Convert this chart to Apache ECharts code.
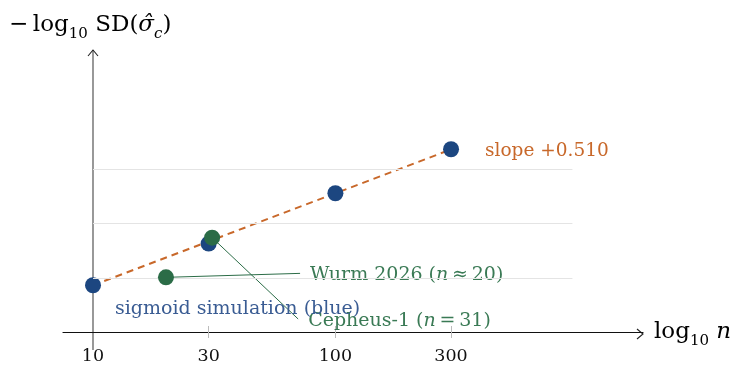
<!DOCTYPE html>
<html><head><meta charset="utf-8">
<script src="https://cdn.jsdelivr.net/npm/echarts@6/dist/echarts.min.js"></script>
<style>html,body{margin:0;padding:0;background:#fff}#c{width:732px;height:365px}</style>
</head><body><div id="c"></div>
<script>
// ---- data (x in n, plotted on log10 scale; y = -log10 SD) ----
const tickN = [10, 30, 100, 300];
const simN = [10, 30, 100, 300];
const simY = [0.559, 0.790, 1.069, 1.313];
const fitN = [10, 300];
const fitY = [0.559, 1.312];
const obsText = ['Wurm 2026 ({i|n}\u2009≈\u200920)', 'Cepheus-1 ({i|n}\u2009=\u200931)'];
const obsN = [20, 31];
const obsY = [0.603, 0.823];
const leaderN = [71.5, 70.2];
const leaderY = [0.625, 0.372];
const gridY = [0.6, 0.9, 1.2];
const gridSpanN = [10, 950];

const L = Math.log10;
const FONT = 'DejaVu Serif';
const BLUE = '#1c4680', BLUE_T = '#3a5c93';
const GREEN = '#2b6c47', GREEN_T = '#3a7a55';
const ORANGE = '#c8682a';
const FS = 19;

const slope = (fitY[1] - fitY[0]) / (L(fitN[1]) - L(fitN[0]));

const XMIN = 0.8762, XMAX = 3.2690;
const YMIN = 0.3, YMAX = 1.8575;

const chart = echarts.init(document.getElementById('c'), null, {renderer: 'canvas'});

const series = [];
series.push({
  type: 'line', data: [], silent: true,
  markLine: {
    symbol: 'none', silent: true, label: {show: false},
    lineStyle: {color: '#e4e4e4', width: 1.2, type: 'solid'},
    data: gridY.map(v => [{coord: [L(gridSpanN[0]), v]}, {coord: [L(gridSpanN[1]), v]}])
  }, z: 1
});
series.push({
  type: 'line', data: fitN.map((n, i) => [L(n), fitY[i]]),
  symbol: 'none', z: 2,
  lineStyle: {color: ORANGE, width: 2, type: [7, 5]},
  endLabel: {show: true, formatter: 'slope +' + slope.toFixed(3), color: ORANGE,
    fontFamily: FONT, fontSize: 18.5, distance: 34, offset: [0, 2]}
});
obsN.forEach((n, i) => {
  series.push({
    type: 'line', data: [[L(n), obsY[i]], [L(leaderN[i]), leaderY[i]]],
    symbol: 'none', z: 3,
    lineStyle: {color: GREEN, width: 1},
    endLabel: {show: true, formatter: obsText[i], color: GREEN_T, fontFamily: FONT,
      fontSize: FS, distance: 10, offset: [0, 2],
      rich: {i: {fontStyle: 'italic', fontFamily: FONT, fontSize: FS, color: GREEN_T}}}
  });
});
series.push({
  type: 'scatter', z: 4, symbolSize: 16,
  itemStyle: {color: BLUE, opacity: 1},
  data: simN.map((n, i) => {
    const d = {value: [L(n), simY[i]]};
    if (i === 0) d.label = {show: true, formatter: 'sigmoid simulation (blue)', position: 'right',
      distance: 14, offset: [0, 24], color: BLUE_T, fontFamily: FONT, fontSize: FS};
    return d;
  })
});
series.push({
  type: 'scatter', z: 5, symbolSize: 16,
  itemStyle: {color: GREEN, opacity: 1},
  data: obsN.map((n, i) => [L(n), obsY[i]])
});

const axisCommon = {type: 'value', min: XMIN, max: XMAX, splitLine: {show: false}};
chart.setOption({
  animation: false,
  grid: {left: 63, right: 89, top: 51, bottom: 31, containLabel: false},
  xAxis: [
    Object.assign({}, axisCommon, {
      position: 'bottom',
      axisLine: {show: true, onZero: false, lineStyle: {color: '#111', width: 1.2}},
      axisTick: {show: true, customValues: tickN.slice(1).map(L), length: 6, lineStyle: {color: '#bbb', width: 1}},
      axisLabel: {show: true, customValues: tickN.map(L), formatter: v => String(Math.round(Math.pow(10, v))),
        color: '#111', fontFamily: FONT, fontSize: 17.5, margin: 15}
    }),
    Object.assign({}, axisCommon, {
      position: 'bottom',
      axisLine: {show: false},
      axisTick: {show: true, inside: true, customValues: tickN.slice(1).map(L), length: 6, lineStyle: {color: '#bbb', width: 1}},
      axisLabel: {show: false}
    })
  ],
  yAxis: {type: 'value', min: YMIN, max: YMAX, show: false},
  series: series,
  graphic: [
    {type: 'line', shape: {x1: 93, y1: 50, x2: 93, y2: 350}, style: {stroke: '#444', lineWidth: 1.1}, z: 0},
    {type: 'polyline', shape: {points: [[88, 56], [93, 50], [98, 56]]}, style: {stroke: '#222', lineWidth: 1.1, fill: null}},
    {type: 'polyline', shape: {points: [[637, 329], [643, 334], [637, 339]]}, style: {stroke: '#222', lineWidth: 1.1, fill: null}},
    {type: 'text', left: 9, top: 14, style: {
      text: '{a|−\u2009log}{s|10}{a| SD(}{i|σ̂}{si|c}{a|)}',
      rich: {
        a: {fontFamily: FONT, fontSize: 23, lineHeight: 32, color: '#111', verticalAlign: 'middle'},
        i: {fontFamily: FONT, fontStyle: 'italic', fontSize: 23, lineHeight: 32, color: '#111', verticalAlign: 'middle'},
        s: {fontFamily: FONT, fontSize: 15, lineHeight: 15, color: '#111', verticalAlign: 'bottom'},
        si: {fontFamily: FONT, fontStyle: 'italic', fontSize: 15, lineHeight: 15, color: '#111', verticalAlign: 'bottom'}
      }}},
    {type: 'text', left: 654, top: 321, style: {
      text: '{a|log}{s|10}{a| }{i|n}',
      rich: {
        a: {fontFamily: FONT, fontSize: 23, lineHeight: 32, color: '#111', verticalAlign: 'middle'},
        i: {fontFamily: FONT, fontStyle: 'italic', fontSize: 23, lineHeight: 32, color: '#111', verticalAlign: 'middle'},
        s: {fontFamily: FONT, fontSize: 15, lineHeight: 15, color: '#111', verticalAlign: 'bottom'}
      }}}
  ]
});
</script>
</body></html>
